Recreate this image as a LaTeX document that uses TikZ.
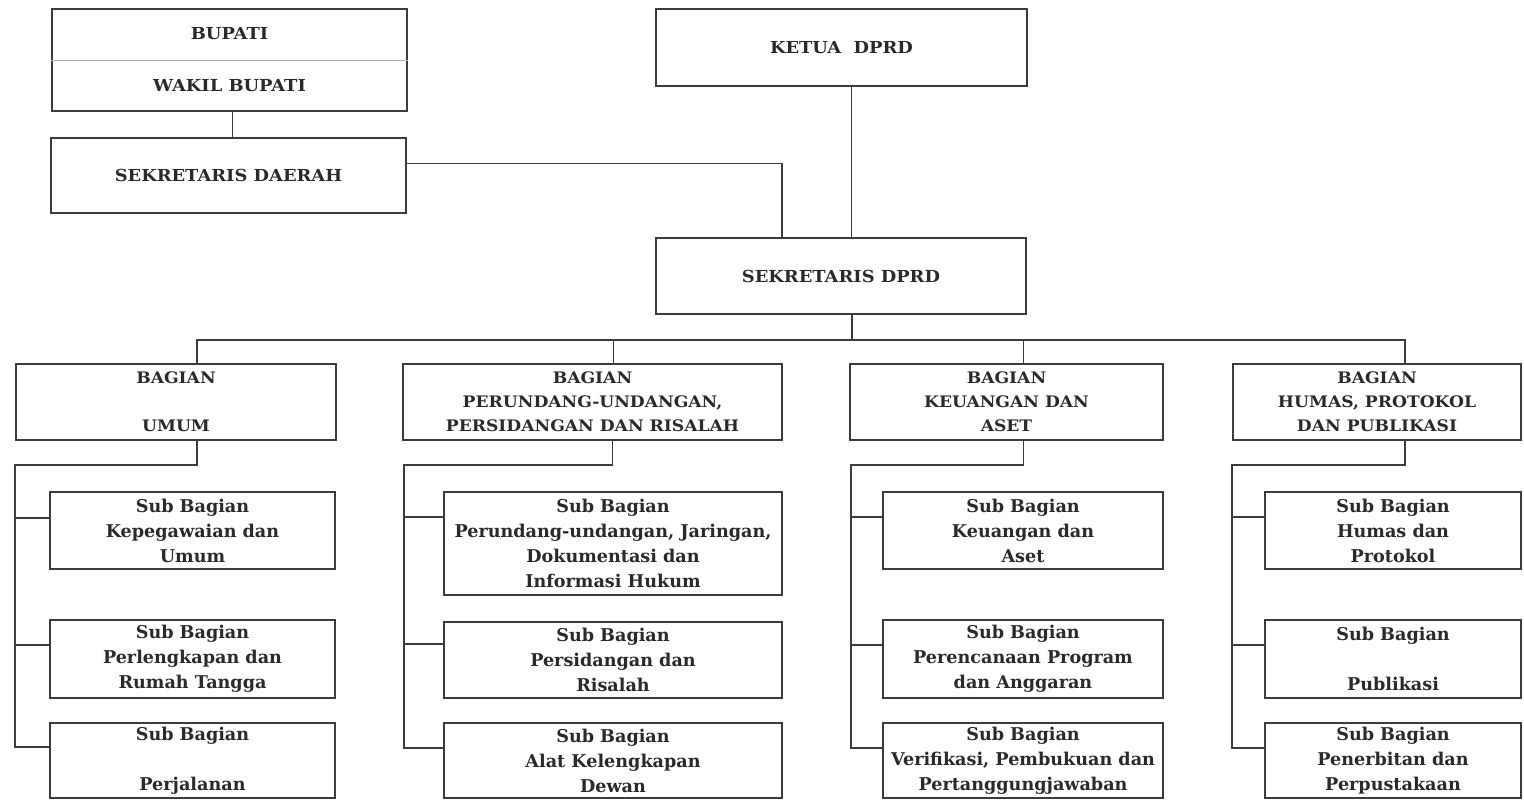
\documentclass[tikz,border=0pt]{standalone}
\usepackage{fontspec}
\setmainfont{DejaVu Serif}
\newfontfamily\widefont[FakeStretch=1.08]{DejaVu Serif}
\usetikzlibrary{calc}
\definecolor{ink}{HTML}{2A2A2A}
\definecolor{edge}{HTML}{3C3C3C}
\newcommand\bx[7]{\node[#7, minimum width={(#4-#2)*0.75pt}, minimum height={(#5-#3)*0.75pt}] (#1) at ({(#2+#4)/2},{(#3+#5)/2}) {#6};}
\begin{document}
\begin{tikzpicture}[x=0.75pt,y=-0.75pt,
  box/.style={draw=edge, line width=2pt, fill=white, inner sep=0pt, align=center, text=ink},
  topbox/.style={box, font=\widefont\bfseries\fontsize{12.4}{39}\selectfont},
  bagbox/.style={box, font=\widefont\bfseries\fontsize{11.9}{18}\selectfont},
  subbox/.style={box, font=\bfseries\fontsize{13.2}{18.75}\selectfont},
  conn/.style={draw=edge, line width=0.9pt},
  divider/.style={draw=gray!60, line width=0.6pt}]
\useasboundingbox (0,0) rectangle (1524,800);
% top level
\bx{bup}{52}{9}{407}{111}{BUPATI\\WAKIL BUPATI}{topbox}
\draw[divider] (bup.west) -- (bup.east);
\bx{sekda}{51}{138}{406}{213}{SEKRETARIS DAERAH}{topbox}
\bx{ketua}{656}{9}{1027}{86}{KETUA\ \ DPRD}{topbox}
\bx{sdprd}{656}{238}{1026}{314}{SEKRETARIS DPRD}{topbox}
% bagian
\bx{b1}{16}{364}{336}{440}{BAGIAN\\\mbox{}\\UMUM}{bagbox}
\bx{b2}{403}{364}{782}{440}{BAGIAN\\PERUNDANG-UNDANGAN,\\PERSIDANGAN DAN RISALAH}{bagbox}
\bx{b3}{850}{364}{1163}{440}{BAGIAN\\KEUANGAN DAN\\ASET}{bagbox}
\bx{b4}{1233}{364}{1521}{440}{BAGIAN\\HUMAS, PROTOKOL\\DAN PUBLIKASI}{bagbox}
% sub bagian
\bx{s11}{50}{492}{335}{569}{Sub Bagian\\Kepegawaian dan\\Umum}{subbox}
\bx{s12}{50}{620}{335}{698}{Sub Bagian\\Perlengkapan dan\\Rumah Tangga}{subbox}
\bx{s13}{50}{723}{335}{798}{Sub Bagian\\\mbox{}\\Perjalanan}{subbox}
\bx{s21}{444}{492}{782}{595}{Sub Bagian\\Perundang-undangan, Jaringan,\\Dokumentasi dan\\Informasi Hukum}{subbox}
\bx{s22}{444}{622}{782}{698}{Sub Bagian\\Persidangan dan\\Risalah}{subbox}
\bx{s23}{444}{723}{782}{798}{Sub Bagian\\Alat Kelengkapan\\Dewan}{subbox}
\bx{s31}{883}{492}{1163}{569}{Sub Bagian\\Keuangan dan\\Aset}{subbox}
\bx{s32}{883}{620}{1163}{698}{Sub Bagian\\Perencanaan Program\\dan Anggaran}{subbox}
\bx{s33}{883}{723}{1163}{798}{Sub Bagian\\Verifikasi, Pembukuan dan\\Pertanggungjawaban}{subbox}
\bx{s41}{1265}{492}{1521}{569}{Sub Bagian\\Humas dan\\Protokol}{subbox}
\bx{s42}{1265}{620}{1521}{698}{Sub Bagian\\\mbox{}\\Publikasi}{subbox}
\bx{s43}{1265}{723}{1521}{798}{Sub Bagian\\Penerbitan dan\\Perpustakaan}{subbox}
% top connectors
\draw[conn] ([xshift=2pt]bup.south) -- ([xshift=2pt]bup.south |- sekda.north);
\draw[conn] ([yshift=9pt]sekda.east) -| ([xshift=-44.25pt]sdprd.north);
\draw[conn] ([xshift=7.5pt]ketua.south) -- ([xshift=7.5pt]ketua.south |- sdprd.north);
\coordinate (bus) at (852,340);
\draw[conn] (bus |- sdprd.south) -- (bus);
\draw[conn] (bus) -| ([xshift=15.75pt]b1.north);
\draw[conn] (bus) -| ([xshift=16pt]b2.north);
\draw[conn] (bus) -| ([xshift=13pt]b3.north);
\draw[conn] (bus) -| ([xshift=21pt]b4.north);
% columns
\coordinate (c1t) at (15,465);  \coordinate (c1b) at (15,747);
\coordinate (c2t) at (404,465); \coordinate (c2b) at (404,748);
\coordinate (c3t) at (851,465); \coordinate (c3b) at (851,748);
\coordinate (c4t) at (1232,465);\coordinate (c4b) at (1232,748);
\draw[conn] ([xshift=15.75pt]b1.south) |- (c1t) -- (c1b) -- (c1b -| s13.west);
\draw[conn] ([xshift=15.25pt]b2.south) |- (c2t) -- (c2b) -- (c2b -| s23.west);
\draw[conn] ([xshift=13pt]b3.south) |- (c3t) -- (c3b) -- (c3b -| s33.west);
\draw[conn] ([xshift=21pt]b4.south) |- (c4t) -- (c4b) -- (c4b -| s43.west);
\draw[conn] (c1t |- 0,518) -- (s11.west |- 0,518);
\draw[conn] (c1t |- 0,645) -- (s12.west |- 0,645);
\draw[conn] (c2t |- 0,517) -- (s21.west |- 0,517);
\draw[conn] (c2t |- 0,644) -- (s22.west |- 0,644);
\draw[conn] (c3t |- 0,517) -- (s31.west |- 0,517);
\draw[conn] (c3t |- 0,645) -- (s32.west |- 0,645);
\draw[conn] (c4t |- 0,517) -- (s41.west |- 0,517);
\draw[conn] (c4t |- 0,645) -- (s42.west |- 0,645);
\end{tikzpicture}
\end{document}
